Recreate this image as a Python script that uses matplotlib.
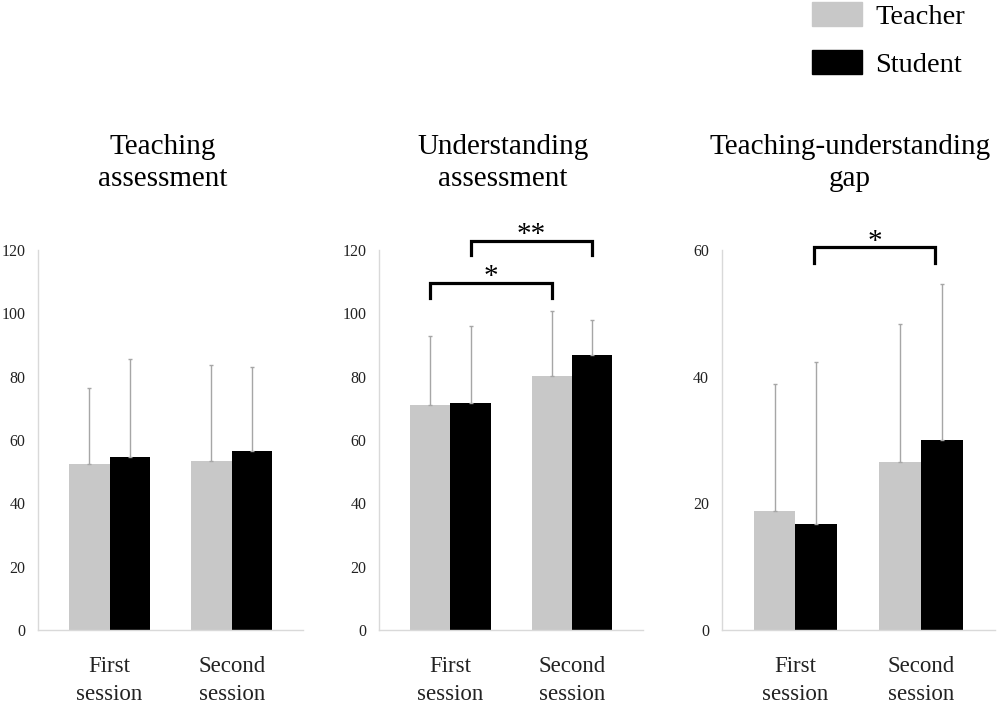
import matplotlib.pyplot as plt
from matplotlib.patches import Rectangle
import numpy as np

plt.rcParams['font.family'] = ['Liberation Serif', 'DejaVu Serif']

sessions = ["First\nsession", "Second\nsession"]
titles = ["Teaching\nassessment", "Understanding\nassessment", "Teaching-understanding\ngap"]
groups = ["Teacher", "Student"]

teacher_mean = [[52.4, 53.5], [71.2, 80.2], [18.8, 26.6]]
teacher_sd = [[24.1, 30.3], [21.5, 20.6], [20.0, 21.7]]
student_mean = [[54.7, 56.6], [71.6, 86.9], [16.7, 30.0]]
student_sd = [[30.8, 26.4], [24.4, 11.1], [25.6, 24.6]]

y_max = [120, 120, 60]
y_step = [20, 20, 20]

# (x0, x1, top, leg_bottom, label)
brackets = [
    [],
    [(-0.166, 0.834, 109.7, 105.0, "*"), (0.166, 1.166, 123.0, 118.4, "**")],
    [(0.15, 1.11, 60.4, 57.9, "*")],
]

teacher_color = "#c8c8c8"
student_color = "#000000"
err_color = "#a6a6a6"
spine_color = "#d9d9d9"

fig = plt.figure(figsize=(10, 7.09), dpi=100)
lefts = [0.038, 0.379, 0.7217]
widths = [0.265, 0.264, 0.273]
bottom, height = 1 - 630 / 709, 380 / 709

w = 0.332
x = np.arange(len(sessions))
for i in range(3):
    ax = fig.add_axes([lefts[i], bottom, widths[i], height])
    ax.bar(x - w / 2, teacher_mean[i], w, color=teacher_color)
    ax.bar(x + w / 2, student_mean[i], w, color=student_color)
    ax.errorbar(x - w / 2, teacher_mean[i], yerr=[[0, 0], teacher_sd[i]], fmt='none',
                ecolor=err_color, elinewidth=1, capsize=1.5, capthick=1)
    ax.errorbar(x + w / 2, student_mean[i], yerr=[[0, 0], student_sd[i]], fmt='none',
                ecolor=err_color, elinewidth=1, capsize=1.5, capthick=1)
    ax.set_xlim(-0.587, 1.585)
    ax.set_ylim(0, y_max[i])
    ax.set_yticks(np.arange(0, y_max[i] + 1, y_step[i]))
    ax.set_xticks(x)
    ax.set_xticklabels(sessions, fontsize=16.5, linespacing=1.42)
    ax.tick_params(axis='both', length=0, colors='#222222')
    ax.tick_params(axis='y', labelsize=11.5, pad=9)
    ax.tick_params(axis='x', pad=19)
    for s in ['top', 'right']:
        ax.spines[s].set_visible(False)
    for s in ['left', 'bottom']:
        ax.spines[s].set_color(spine_color)
        ax.spines[s].set_linewidth(1)
    for (x0, x1, top, leg, lab) in brackets[i]:
        ax.plot([x0, x0, x1, x1], [leg, top, top, leg], color='black', lw=2.3,
                clip_on=False, solid_joinstyle='miter')
        ax.annotate(lab, ((x0 + x1) / 2, top), xytext=(0, 4), textcoords='offset points',
                    ha='center', va='center', fontsize=21, annotation_clip=False)
    fig.text(lefts[i] + widths[i] * 0.47, 1 - 163 / 709, titles[i], ha='center',
             va='center', fontsize=21, linespacing=1.35)

# legend drawn in figure pixels
handles_y = [2, 50]
for lab, col, y0 in zip(groups, [teacher_color, student_color], handles_y):
    fig.add_artist(Rectangle((812 / 1000, 1 - (y0 + 24) / 709), 50 / 1000, 24 / 709,
                             transform=fig.transFigure, color=col))
    fig.text(875 / 1000, 1 - (y0 + 15) / 709, lab, ha='left', va='center', fontsize=20.5)

fig.savefig("out.png", dpi=100)
